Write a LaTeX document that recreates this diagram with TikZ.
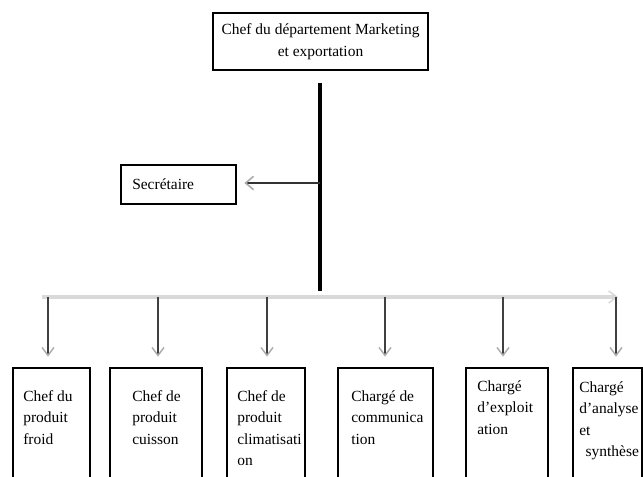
\documentclass[tikz,border=0pt]{standalone}
\usepackage{fontspec}
\setmainfont{Liberation Serif}
\usetikzlibrary{arrows.meta}
\begin{document}
\begin{tikzpicture}[x=0.75pt,y=-0.75pt,
  every node/.style={font=\fontsize{11.6}{16.2}\selectfont},
  box/.style={draw=black,line width=2pt,inner sep=0pt},
  label/.style={anchor=north west,inner sep=0pt,align=left},
  spine/.style={line width=3.2pt,black},
  bus/.style={line width=3pt,gray!30,-{Straight Barb[length=6pt,width=9pt,line width=1.2pt]}},
  down/.style={line width=1pt,black!75,-{Straight Barb[length=6pt,width=9pt,line width=1.1pt,color=gray!65]}},
  side/.style={line width=1.4pt,black!80,-{Straight Barb[length=6pt,width=10pt,line width=1.2pt,color=gray!65]}}]
\useasboundingbox (0,0) rectangle (643,477);
\clip (0,0) rectangle (643,477);

% head of department
\node[box,minimum width=161.25pt,minimum height=42.75pt,align=center] (chef) at (320.5,41.5)
  {Chef du département Marketing\\et exportation};

% secretary
\node[box,minimum width=86.25pt,minimum height=29.25pt] (secr) at (178.5,184.5) {};
\node[label,anchor=west] (secrtxt) at (132,184.5) {Secrétaire};

% spine and branch points
\coordinate (vtop) at (320,83);
\coordinate (vsec) at (320,183);
\coordinate (vbot) at (320,291);
\coordinate (busL) at (42,297);
\coordinate (busR) at (618,297);
\draw[spine] (vtop) -- (vbot);
\draw[side,shorten >=5.25pt] (vsec) -- (secr.east |- vsec);
\draw[bus] (busL) -- (busR);

% subordinate boxes (run past the lower edge)
\node[box,minimum width=57.75pt,minimum height=93pt] (b1) at (51.5,430) {};
\node[box,minimum width=69pt,minimum height=93pt] (b2) at (156,430) {};
\node[box,minimum width=58.5pt,minimum height=93pt] (b3) at (266,430) {};
\node[box,minimum width=71.25pt,minimum height=93pt] (b4) at (385.5,430) {};
\node[box,minimum width=61.5pt,minimum height=93pt] (b5) at (507,430) {};
\node[box,minimum width=51.75pt,minimum height=93pt] (b6) at (607.5,430) {};

\node[label] (t1) at (23,390) {Chef du\\produit\\froid};
\node[label] (t2) at (132,390) {Chef de\\produit\\cuisson};
\node[label] (t3) at (237,390) {Chef de\\produit\\climatisati\\on};
\node[label] (t4) at (351,390) {Chargé de\\communica\\tion};
\node[label] (t5) at (477,380) {Chargé\\d’exploit\\ation};
\node[label] (t6) at (579,381) {Chargé\\d’analyse\\et\\\ \,synthèse};

% branch arrows
\foreach \i/\x in {1/48,2/158,3/267,4/385,5/503,6/616}{
  \coordinate (d\i) at (\x,297);
  \draw[down,shorten >=7.5pt] (d\i) -- (d\i |- b\i.north);
}
\end{tikzpicture}
\end{document}
